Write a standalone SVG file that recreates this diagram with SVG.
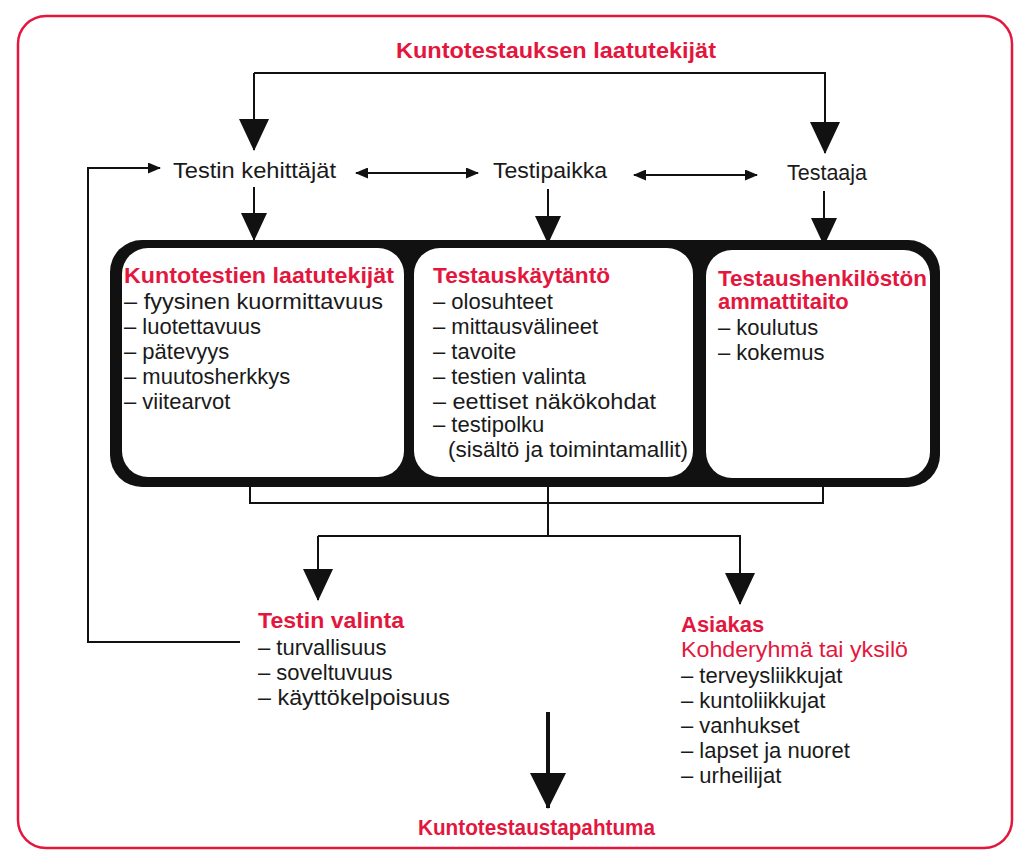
<svg xmlns="http://www.w3.org/2000/svg" width="1019" height="853" viewBox="0 0 1019 853">
<style>
text{font-family:"Liberation Sans",Arial,sans-serif;fill:#1a1a1a;font-size:22px}
.h{fill:#e3173e;font-weight:bold}
.r{fill:#e3173e}
.c{fill:none;stroke:#111;stroke-width:2}
</style>
<defs>
<marker id="big" markerUnits="userSpaceOnUse" viewBox="0 0 32 30" markerWidth="32" markerHeight="30" refX="31" refY="15" orient="auto"><path d="M0,0 L32,15 L0,30 z" fill="#111"/></marker>
<marker id="mid" markerUnits="userSpaceOnUse" viewBox="0 0 28 26" markerWidth="28" markerHeight="26" refX="27" refY="13" orient="auto"><path d="M0,0 L28,13 L0,26 z" fill="#111"/></marker>
<marker id="huge" markerUnits="userSpaceOnUse" viewBox="0 0 36 36" markerWidth="36" markerHeight="36" refX="35" refY="18" orient="auto"><path d="M0,0 L36,18 L0,36 z" fill="#111"/></marker>
<marker id="sm" markerUnits="userSpaceOnUse" viewBox="0 0 13 11" markerWidth="13" markerHeight="11" refX="12" refY="5.5" orient="auto-start-reverse"><path d="M0,0 L13,5.5 L0,11 z" fill="#111"/></marker>
</defs>
<rect width="1019" height="853" fill="#fff"/>
<rect id="frame" x="18" y="16" width="994" height="832" rx="28" fill="none" stroke="#e3173e" stroke-width="2.5"/>

<g id="connectors">
<path class="c" d="M254,73 H825 V153" marker-end="url(#big)"/>
<path class="c" d="M254,73 V150" marker-end="url(#big)"/>
<path class="c" d="M254,187 V240" marker-end="url(#mid)"/>
<path class="c" d="M548,189 V243" marker-end="url(#mid)"/>
<path class="c" d="M824,191 V245" marker-end="url(#mid)"/>
<path class="c" d="M356,173 H478" marker-start="url(#sm)" marker-end="url(#sm)"/>
<path class="c" d="M634,175 H757" marker-start="url(#sm)" marker-end="url(#sm)"/>
<path class="c" d="M240,642 H88 V168 H160" marker-end="url(#sm)"/>
<path class="c" d="M250,485 V503 H823 V485"/>
<path class="c" d="M548,485 V536"/>
<path class="c" d="M318,536 V600" marker-end="url(#big)"/>
<path class="c" d="M318,536 H740 V604" marker-end="url(#big)"/>
<path class="c" d="M548,712 V808" style="stroke-width:4" marker-end="url(#huge)"/>
</g>

<g id="title"><text class="h" x="396" y="58" textLength="320" lengthAdjust="spacingAndGlyphs">Kuntotestauksen laatutekijät</text></g>
<g id="kehittajat"><text x="173" y="178" textLength="163" lengthAdjust="spacingAndGlyphs">Testin kehittäjät</text></g>
<g id="testipaikka"><text x="493" y="178" textLength="114" lengthAdjust="spacingAndGlyphs">Testipaikka</text></g>
<g id="testaaja"><text x="787" y="180" textLength="80" lengthAdjust="spacingAndGlyphs">Testaaja</text></g>

<g id="container"><rect x="110" y="240" width="830" height="247" rx="32" fill="#111"/></g>

<g id="box1">
<rect x="122" y="248" width="282" height="229" rx="26" fill="#fff"/>
<text class="h" x="124" y="283" textLength="270" lengthAdjust="spacingAndGlyphs">Kuntotestien laatutekijät</text>
<text x="124" y="309" textLength="259" lengthAdjust="spacingAndGlyphs">– fyysinen kuormittavuus</text>
<text x="124" y="334">– luotettavuus</text>
<text x="124" y="359">– pätevyys</text>
<text x="124" y="384">– muutosherkkys</text>
<text x="124" y="409">– viitearvot</text>
</g>
<g id="box2">
<rect x="414" y="248" width="279" height="229" rx="26" fill="#fff"/>
<text class="h" x="433" y="283" textLength="177" lengthAdjust="spacingAndGlyphs">Testauskäytäntö</text>
<text x="433" y="309">– olosuhteet</text>
<text x="433" y="334">– mittausvälineet</text>
<text x="433" y="359">– tavoite</text>
<text x="433" y="384">– testien valinta</text>
<text x="433" y="409" textLength="223" lengthAdjust="spacingAndGlyphs">– eettiset näkökohdat</text>
<text x="433" y="432">– testipolku</text>
<text x="448" y="457" textLength="240" lengthAdjust="spacingAndGlyphs">(sisältö ja toimintamallit)</text>
</g>
<g id="box3">
<rect x="706" y="250" width="224" height="228" rx="26" fill="#fff"/>
<text class="h" x="718" y="286" textLength="209" lengthAdjust="spacingAndGlyphs">Testaushenkilöstön</text>
<text class="h" x="718" y="309">ammattitaito</text>
<text x="718" y="335">– koulutus</text>
<text x="718" y="360">– kokemus</text>
</g>

<g id="valinta">
<text class="h" x="258" y="628" textLength="146" lengthAdjust="spacingAndGlyphs">Testin valinta</text>
<text x="258" y="655">– turvallisuus</text>
<text x="258" y="680">– soveltuvuus</text>
<text x="258" y="705" textLength="192" lengthAdjust="spacingAndGlyphs">– käyttökelpoisuus</text>
</g>
<g id="asiakas">
<text class="h" x="681" y="632">Asiakas</text>
<text class="r" x="681" y="657" textLength="227" lengthAdjust="spacingAndGlyphs">Kohderyhmä tai yksilö</text>
<text x="681" y="683">– terveysliikkujat</text>
<text x="681" y="708">– kuntoliikkujat</text>
<text x="681" y="733">– vanhukset</text>
<text x="681" y="758">– lapset ja nuoret</text>
<text x="681" y="783">– urheilijat</text>
</g>
<g id="tapahtuma"><text class="h" x="418" y="835" textLength="237" lengthAdjust="spacingAndGlyphs">Kuntotestaustapahtuma</text></g>
</svg>
